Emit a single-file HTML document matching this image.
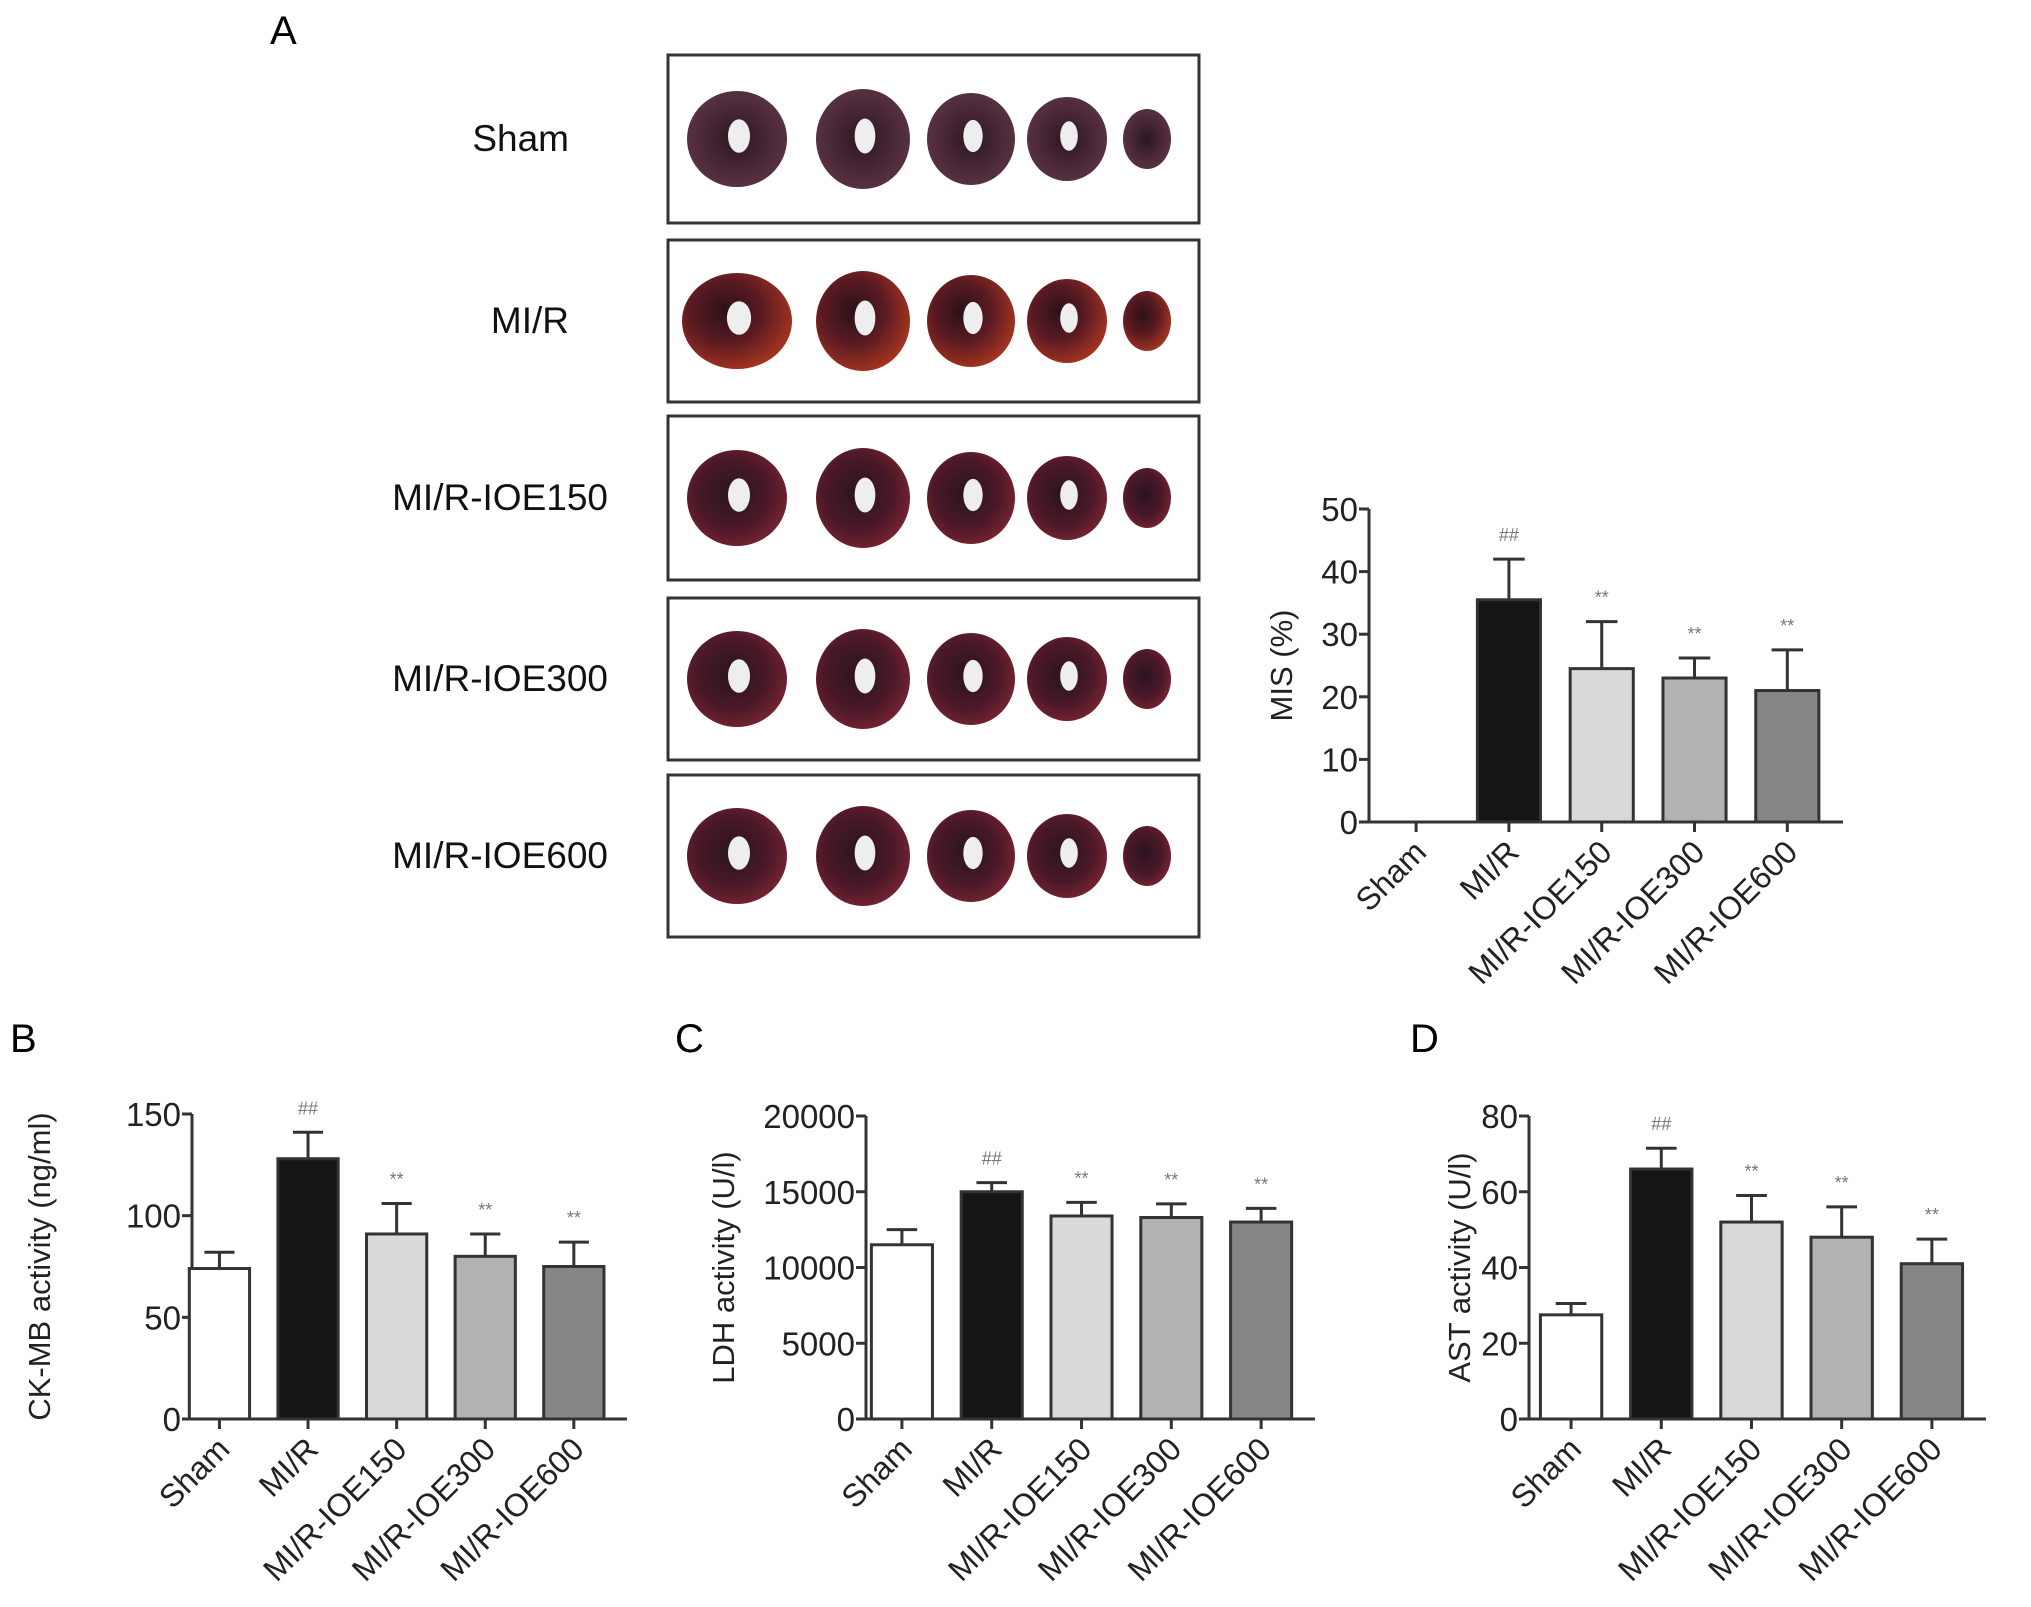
<!DOCTYPE html>
<html><head><meta charset="utf-8">
<style>
html,body{margin:0;padding:0;background:#fff;}
svg{display:block;font-family:"Liberation Sans",Arial,sans-serif;}
</style></head>
<body>
<svg id="fig" width="2031" height="1607" viewBox="0 0 2031 1607" xmlns="http://www.w3.org/2000/svg">
<defs>
<radialGradient id="gPurple" cx="50%" cy="50%" r="55%"><stop offset="0" stop-color="#2a1620"/><stop offset="0.6" stop-color="#4a2838"/><stop offset="1" stop-color="#5a3344"/></radialGradient>
<radialGradient id="gRed" cx="40%" cy="40%" r="65%"><stop offset="0" stop-color="#2a1218"/><stop offset="0.5" stop-color="#5a1a22"/><stop offset="1" stop-color="#a8351f"/></radialGradient>
<radialGradient id="gMix" cx="45%" cy="45%" r="60%"><stop offset="0" stop-color="#2a1420"/><stop offset="0.6" stop-color="#4a1828"/><stop offset="1" stop-color="#7a2430"/></radialGradient>
</defs>
<text x="270" y="44" font-size="40">A</text>
<text x="10" y="1052" font-size="40">B</text>
<text x="675" y="1052" font-size="40">C</text>
<text x="1410" y="1052" font-size="40">D</text>
<g id="photos"></g>
<g id="charts"></g>
</svg>
<script>
const NS="http://www.w3.org/2000/svg";
const svg=document.getElementById('fig');
function mk(tag,attrs,parent){const e=document.createElementNS(NS,tag);for(const k in attrs)e.setAttribute(k,attrs[k]);(parent||svg).appendChild(e);return e;}

// ---------- Photo panel ----------
const rowLabels=["Sham","MI/R","MI/R-IOE150","MI/R-IOE300","MI/R-IOE600"];
const boxes=[[668,55,531,168],[668,240,531,162],[668,416,531,164],[668,598,531,162],[668,775,531,162]];
const sliceX=[737,863,971,1067,1147];
const sliceR=[[50,48],[47,50],[44,46],[40,42],[24,30]];
const fills=["url(#gPurple)","url(#gRed)","url(#gMix)","url(#gMix)","url(#gMix)"];
const photos=document.getElementById('photos');
rowLabels.forEach((lab,i)=>{
  const [x,y,w,h]=boxes[i];
  const b=mk('rect',{x:x,y:y,width:w,height:h,fill:'#fff',stroke:'#333','stroke-width':3},photos);
  
  
  const t=mk('text',{x:i==0?569:(i==1?569:608),y:y+h/2+12,'font-size':37,'text-anchor':'end',fill:'#111'},photos);
  t.textContent=lab;
  
  
  sliceX.forEach((sx,j)=>{
    const rx=sliceR[j][0]*(i==1&&j==0?1.1:1), ry=sliceR[j][1];
    const e=mk('ellipse',{cx:sx,cy:y+h/2,rx:rx,ry:ry,fill:fills[i]},photos);
    
    
    if(j<4){const hole=mk('ellipse',{cx:sx+2,cy:y+h/2-3,rx:rx*0.22,ry:ry*0.35,fill:'#eee'},photos);
      
      }
  });
});

// ---------- Chart data ----------
const categories=["Sham","MI/R","MI/R-IOE150","MI/R-IOE300","MI/R-IOE600"];
const misValues=[0,35.5,24.5,23,21];
const misErr=[0,6.5,7.5,3.2,6.5];
const misTicks=[0,10,20,30,40,50];
const ckValues=[74,128,91,80,75];
const ckErr=[8,13,15,11,12];
const ckTicks=[0,50,100,150];
const ldhValues=[11500,15000,13400,13300,13000];
const ldhErr=[1000,600,900,900,900];
const ldhTicks=[0,5000,10000,15000,20000];
const astValues=[27.5,66,52,48,41];
const astErr=[3,5.5,7,8,6.5];
const astTicks=[0,20,40,60,80];
const sigMarks=["","##","**","**","**"];
const barFills=["#ffffff","#151515","#d9d9d9","#b2b2b2","#868686"];

const charts=document.getElementById('charts');
function chart(o){
  const g=mk('g',{},charts);
  
  
  const max=o.ticks[o.ticks.length-1];
  const ys=v=>o.y0-(v/max)*(o.y0-o.yTop);
  const n=categories.length;
  const step=(o.xEnd-o.x0-o.pad)/n;
  const xs=i=>o.x0+o.pad+step*(i+0.5)-step*0.1;
  const ya=mk('line',{x1:o.x0,y1:o.yTop,x2:o.x0,y2:o.y0,stroke:'#333','stroke-width':3},g);
  
  
  const xa=mk('line',{x1:o.x0-8,y1:o.y0,x2:o.xEnd,y2:o.y0,stroke:'#333','stroke-width':3},g);
  
  
  o.ticks.forEach(t=>{
    const y=ys(t);
    const tk=mk('line',{x1:o.x0-10,y1:y,x2:o.x0,y2:y,stroke:'#333','stroke-width':3},g);
    
    
    const tl=mk('text',{x:o.x0-11,y:y+12,'font-size':33,'text-anchor':'end',fill:'#222'},g);
    tl.textContent=t;
    
    
  });
  const tt=mk('text',{x:o.titleX,y:(o.y0+o.yTop)/2,'font-size':31,'text-anchor':'middle',fill:'#222',transform:`rotate(-90 ${o.titleX} ${(o.y0+o.yTop)/2})`},g);
  tt.textContent=o.title;
  
  
  const bw=step*0.68;
  categories.forEach((c,i)=>{
    const cx=xs(i), v=o.values[i], e=o.err[i];
    const xt=mk('line',{x1:cx,y1:o.y0,x2:cx,y2:o.y0+10,stroke:'#333','stroke-width':3},g);
    
    
    const cl=mk('text',{x:cx+12,y:o.y0+32,'font-size':32,'text-anchor':'end',fill:'#222',transform:`rotate(-45 ${cx+12} ${o.y0+32})`},g);
    cl.textContent=c;
    
    
    if(v>0){
      const top=ys(v+e);
      const el=mk('line',{x1:cx,y1:ys(v),x2:cx,y2:top,stroke:'#333','stroke-width':3},g);
      
      
      const cap=mk('line',{x1:cx-bw*0.25,y1:top,x2:cx+bw*0.25,y2:top,stroke:'#333','stroke-width':3},g);
      
      
      const r=mk('rect',{x:cx-bw/2,y:ys(v),width:bw,height:o.y0-ys(v),fill:barFills[i],stroke:'#333','stroke-width':3},g);
      
      
      if(sigMarks[i]){
        const s=mk('text',{x:cx,y:top-18,'font-size':18,'text-anchor':'middle',fill:'#777'},g);
        s.textContent=sigMarks[i];
        
        
      }
    }
  });
}
chart({name:'mis-chart',values:misValues,err:misErr,ticks:misTicks,x0:1369,y0:822,yTop:509,xEnd:1843,pad:10,title:'MIS (%)',titleX:1292});
chart({name:'ckmb-chart',values:ckValues,err:ckErr,ticks:ckTicks,x0:192,y0:1419,yTop:1114,xEnd:627,pad:-8,title:'CK-MB activity (ng/ml)',titleX:50});
chart({name:'ldh-chart',values:ldhValues,err:ldhErr,ticks:ldhTicks,x0:866,y0:1419,yTop:1116,xEnd:1315,pad:0,title:'LDH activity (U/l)',titleX:734});
chart({name:'ast-chart',values:astValues,err:astErr,ticks:astTicks,x0:1529,y0:1419,yTop:1116,xEnd:1986,pad:6,title:'AST activity (U/l)',titleX:1470});
</script>
</body></html>
